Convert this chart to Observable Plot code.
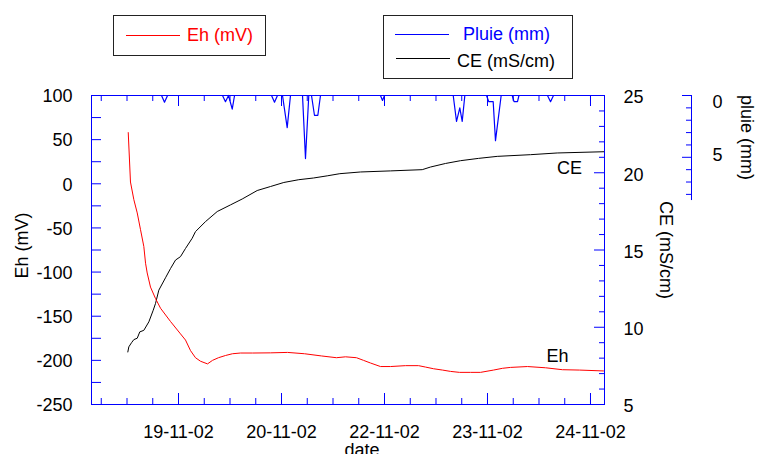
<!DOCTYPE html>
<html><head><meta charset="utf-8">
<script src="https://cdn.jsdelivr.net/npm/d3@7"></script>
<script src="https://cdn.jsdelivr.net/npm/@observablehq/plot@0.6"></script>
<style>
body{margin:0;background:#fff;font-family:"Liberation Sans",Arial,sans-serif;}
#wrap{position:relative;width:759px;height:454px;}
.leg{position:absolute;border:1px solid #222;background:#fff;box-sizing:border-box;}
.item{position:absolute;font-size:18px;line-height:18px;white-space:nowrap;}
.sw{position:absolute;height:0;border-top:1px solid;}
</style></head><body>
<div id="wrap">
  <div class="leg" style="left:113px;top:15px;width:153px;height:41px;">
    <div class="sw" style="left:12px;top:19px;width:54px;border-color:#ff0000;"></div>
    <div class="item" style="left:73px;top:10px;color:#ff0000;">Eh (mV)</div>
  </div>
  <div class="leg" style="left:383px;top:15px;width:190px;height:64px;">
    <div class="sw" style="left:11px;top:18px;width:54px;border-color:#0000ff;"></div>
    <div class="item" style="left:79px;top:9px;color:#0000ff;">Pluie (mm)</div>
    <div class="sw" style="left:12px;top:42px;width:54px;border-color:#000;"></div>
    <div class="item" style="left:73px;top:36px;color:#000;">CE (mS/cm)</div>
  </div>
</div>
<script>
// ---- data (day of November 2002, decimal) ----
const ehDays = [18.890,18.917,18.958,18.999,19.039,19.079,19.100,19.120,19.160,19.221,19.282,19.403,19.524,19.585,19.646,19.706,19.767,19.852,19.913,19.985,20.070,20.155,20.252,20.398,20.617,20.823,21.029,21.235,21.417,21.527,21.660,21.745,21.830,21.951,22.073,22.255,22.413,22.498,22.595,22.704,22.801,22.910,23.044,23.165,23.323,23.432,23.529,23.735,23.954,24.160,24.366,24.658];
const ehValues = [58,2,-18,-33,-52,-71,-90,-101,-117,-130,-141,-156,-170,-177,-189,-197,-201,-204,-200,-197,-194.5,-192.5,-191.7,-191.7,-191.5,-191,-192.5,-195,-197,-196,-197,-200,-203,-207,-207,-206,-206,-207.6,-209.5,-211,-212.5,-213.6,-213.6,-213.6,-211,-209,-208,-207,-208.4,-210.6,-211,-212];

const ceDays = [18.885,18.897,18.930,18.958,18.999,19.030,19.079,19.140,19.193,19.221,19.261,19.342,19.403,19.464,19.524,19.585,19.666,19.706,19.828,19.970,20.131,20.273,20.455,20.617,20.778,20.960,21.138,21.305,21.458,21.709,22.073,22.458,22.558,22.740,22.922,23.141,23.368,23.772,24.096,24.661];
const ceValues = [8.4,8.73,9.0,9.2,9.29,9.7,9.8,10.35,11.1,11.54,12.4,13.2,13.8,14.35,14.57,15.1,15.76,16.19,16.84,17.49,17.92,18.3,18.85,19.11,19.37,19.55,19.66,19.8,19.94,20.05,20.12,20.2,20.37,20.6,20.78,20.93,21.06,21.17,21.28,21.36];

const rainDays = [18.885,19.294,19.330,19.367,20.034,20.070,20.107,20.152,20.180,20.629,20.665,20.701,20.762,20.819,20.859,21.005,21.041,21.081,21.114,21.150,21.191,21.223,21.951,21.976,22.000,22.834,22.874,22.914,22.943,22.975,23.238,23.266,23.319,23.347,23.416,23.550,23.572,23.614,23.632,23.978,24.015,24.051,24.661];
const rainValues = [0,0,0.54,0,0,0.5,0,1.1,0,0,0.54,0,0,2.6,0,0,5.1,0,0,1.6,1.6,0,0,0.4,0,0,2.1,1.0,2.1,0,0,0.5,0.5,3.65,0,0,0.5,0.5,0,0,0.5,0,0];

const xTickDays = [19.5,20.75,22.0,23.25,24.5];
const xTickLabels = ["19-11-02","20-11-02","22-11-02","23-11-02","24-11-02"];
const ehTickLabels = [-250,-200,-150,-100,-50,0,50,100];
const ceTickLabels = [5,10,15,20,25];
const pluieTickLabels = [0,5];
const curveLabels = [{name:"CE", day:24.245, v:17.3},{name:"Eh", day:24.10, v:-195.6}];

// ---- helpers ----
const toDate = d => new Date(Date.UTC(2002, 10, 1) + (d - 1) * 864e5);
const ceToEh = c => 17.5 * c - 337.5;     // CE scale mapped onto Eh axis
const pluieToEh = p => 100 - 14 * p;      // rain (downwards) mapped onto Eh axis

const W = 759, H = 454, mL = 91, mR = 155, mT = 95, mB = 50;
const FW = W - mL - mR, FH = H - mT - mB;
const BLUE = "#0000ff";
const domainX = [toDate(18.444), toDate(24.67)];

const eh = ehDays.map((d, i) => ({t: toDate(d), v: ehValues[i]}));
const ce = ceDays.map((d, i) => ({t: toDate(d), v: ceToEh(ceValues[i])}));
const rain = rainDays.map((d, i) => ({t: toDate(d), v: pluieToEh(rainValues[i])}));

const minorX = d3.range(18.5625, 24.6, 0.3125).map(toDate);
const majorX = xTickDays.map(toDate);
const ehTicks = d3.range(-250, 101, 25);
const ceTicks = d3.range(5, 26, 1);
const pluieTicks = d3.range(0, 9, 1);

const FS = 18;
const chart = Plot.plot({
  width: W, height: H,
  marginLeft: mL, marginRight: mR, marginTop: mT, marginBottom: mB,
  style: {fontFamily: '"Liberation Sans", Arial, sans-serif', fontSize: "18px", background: "white", color: "black"},
  x: {type: "utc", domain: domainX, axis: null},
  y: {domain: [-250, 100], axis: null},
  marks: [
    // data lines
    Plot.line(rain, {x: "t", y: "v", stroke: BLUE, strokeWidth: 1.2}),
    Plot.line(ce, {x: "t", y: "v", stroke: "#000", strokeWidth: 1}),
    Plot.line(eh, {x: "t", y: "v", stroke: "#ff0000", strokeWidth: 1}),
    // frame
    Plot.frame({stroke: BLUE}),
    // bottom / top ticks (inward)
    Plot.tickX(minorX, {x: d => d, insetTop: FH - 6, stroke: BLUE}),
    Plot.tickX(majorX, {x: d => d, insetTop: FH - 11, stroke: BLUE}),
    Plot.tickX(minorX, {x: d => d, insetBottom: FH - 6, stroke: BLUE}),
    Plot.tickX(majorX, {x: d => d, insetBottom: FH - 11, stroke: BLUE}),
    // left Eh ticks
    Plot.tickY(ehTicks, {y: d => d, insetRight: FW - 10, stroke: BLUE}),
    // right CE ticks
    Plot.tickY(ceTicks.filter(d => d % 5 !== 0), {y: d => ceToEh(d), insetLeft: FW - 5, stroke: BLUE}),
    Plot.tickY(ceTicks.filter(d => d % 5 === 0), {y: d => ceToEh(d), insetLeft: FW - 10, stroke: BLUE}),
    // pluie axis (outside frame)
    Plot.ruleX([domainX[1]], {x: d => d, y1: pluieToEh(0), y2: pluieToEh(8.5), dx: 87, stroke: BLUE}),
    Plot.tickY(pluieTicks.filter(d => d % 5 !== 0), {y: d => pluieToEh(d), insetLeft: FW - 5, dx: 87, stroke: BLUE}),
    Plot.tickY(pluieTicks.filter(d => d % 5 === 0), {y: d => pluieToEh(d), insetLeft: FW - 9, dx: 87, stroke: BLUE}),
    // tick labels
    Plot.text(ehTickLabels, {y: d => d, text: d => String(d), frameAnchor: "left", dx: -19, dy: 1, textAnchor: "end", fontSize: FS}),
    Plot.text(ceTickLabels, {y: d => ceToEh(d), text: d => String(d), frameAnchor: "right", dx: 19, dy: 2, textAnchor: "start", fontSize: FS}),
    Plot.text(pluieTickLabels.slice(0, 1), {y: d => pluieToEh(d), text: d => String(d), frameAnchor: "right", dx: 108, dy: 7, textAnchor: "start", fontSize: FS}),
    Plot.text(pluieTickLabels.slice(1), {y: d => pluieToEh(d), text: d => String(d), frameAnchor: "right", dx: 108, dy: -2, textAnchor: "start", fontSize: FS}),
    Plot.text(xTickDays, {x: d => toDate(d), text: (d, i) => xTickLabels[i], frameAnchor: "bottom", dy: 33, fontSize: FS}),
    // axis titles
    Plot.text(["Eh (mV)"], {frameAnchor: "left", dx: -69, dy: -4.5, rotate: -90, textAnchor: "middle", lineAnchor: "middle", fontSize: FS}),
    Plot.text(["CE (mS/cm)"], {frameAnchor: "right", dx: 61, rotate: 90, textAnchor: "middle", lineAnchor: "middle", fontSize: FS}),
    Plot.text(["pluie (mm)"], {frameAnchor: "top-right", dx: 142, dy: 42, rotate: 90, textAnchor: "middle", lineAnchor: "middle", fontSize: FS}),
    Plot.text(["date"], {frameAnchor: "bottom", dx: 14, dy: 51, fontSize: FS}),
    // curve labels
    Plot.text(curveLabels, {x: d => toDate(d.day), y: "v", text: "name", fontSize: FS})
  ]
});
document.getElementById("wrap").prepend(chart);
</script>
</body></html>
